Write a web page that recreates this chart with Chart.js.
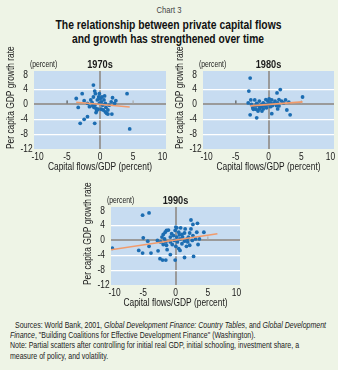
<!DOCTYPE html>
<html><head><meta charset="utf-8">
<script src="https://cdn.jsdelivr.net/npm/chart.js@4.4.1/dist/chart.umd.min.js"></script>
<style>
html,body{margin:0;padding:0;}
body{width:338px;height:370px;background:#eef4e6;position:relative;overflow:hidden;font-family:"Liberation Sans",Arial,sans-serif;color:#1a1a1a;}
.ln{position:absolute;white-space:nowrap;display:inline-block;line-height:1;}
.c{transform-origin:center center;}
.l{transform-origin:left center;}
#t0{font-size:8.5px;color:#444;}
.tt{font-size:12.5px;font-weight:bold;color:#111;}
.s{font-size:9.5px;color:#222;}
.s i{font-style:italic;}
canvas{position:absolute;}
</style></head><body>
<span id="t0" class="ln c">Chart 3</span>
<span id="t1" class="ln c tt">The relationship between private capital flows</span>
<span id="t2" class="ln c tt">and growth has strengthened over time</span>
<canvas id="c1"></canvas><canvas id="c2"></canvas><canvas id="c3"></canvas>
<span id="s1" class="ln l s">Sources: World Bank, 2001, <i>Global Development Finance: Country Tables</i>, and <i>Global Development</i></span>
<span id="s2" class="ln l s"><i>Finance</i>, "Building Coalitions for Effective Development Finance" (Washington).</span>
<span id="s3" class="ln l s">Note: Partial scatters after controlling for initial real GDP, initial schooling, investment share, a</span>
<span id="s4" class="ln l s">measure of policy, and volatility.</span>
<script>
const xTicks = [-10, -5, 0, 5, 10];
const yTicks = [-12, -8, -4, 0, 4, 8];
const panelTitles = ["1970s", "1980s", "1990s"];

const x70 = [-1.0,-0.8,-2.7,-3.6,-3.3,-2.4,-1.9,-1.4,-1.2,-1.0,-0.8,-0.6,-0.5,-0.6,-0.4,-0.2,-0.1,0.05,0.2,0.3,0.4,0.6,0.7,0.8,0.9,0.8,1.0,1.2,1.2,1.4,1.7,1.9,2.2,2.4,1.8,4.1,4.5,-3.0,-2.4,-1.9,-0.8,-0.9,-0.3,0.2,-1.6,-1.1,-0.1,0.5,-0.7];
const y70 = [5.2,3.6,2.9,1.6,-0.8,1.0,0.3,1.2,0.5,2.0,-0.2,-1.1,-1.7,-2.2,1.2,2.0,0.3,1.6,0.7,2.0,-0.2,1.2,2.3,0.3,-0.8,-2.0,-2.4,-1.5,-2.6,-0.2,0.7,1.8,0.3,1.0,-2.6,2.9,-6.6,-5.1,-4.0,-3.3,-5.1,-0.8,-1.3,-1.3,-0.6,-0.4,2.9,-1.5,2.9];
const fitX70 = [-3.6, 4.5];
const fitY70 = [0.6, -0.7];

const x80 = [-2.8,-3.0,1.8,1.3,5.2,-2.7,-2.1,-1.4,-2.6,-2.0,-2.3,-2.8,-1.6,-1.8,-1.3,-1.0,-0.8,-0.5,-0.4,-0.1,0.1,0.3,0.5,0.8,1.0,1.2,1.4,1.6,2.0,2.3,2.6,2.8,3.3,0.5,1.4,-1.0,-0.8,-0.3,0.3,-1.5,-1.8,-1.1,-0.6,0.0,0.6,-2.4,-1.9,-1.4,1.6,3.1,-3.1,-0.4];
const y80 = [7.1,3.6,4.0,3.1,2.0,1.2,1.2,0.9,0.0,-0.4,-1.3,-2.8,-1.8,-3.6,-0.9,0.0,0.4,-0.4,1.3,0.9,1.5,0.4,1.2,0.3,0.9,-0.3,0.4,1.3,0.9,0.4,1.2,-1.5,-2.8,-2.5,-1.2,-1.8,-1.2,-0.9,-0.6,-0.3,0.3,-0.6,-0.3,0.0,-0.3,-0.9,-1.3,-1.2,-0.4,0.6,0.4,0.0];
const fitX80 = [-2.8, 5.2];
const fitY80 = [-0.4, 0.7];

const x90 = [-5.1,-4.1,-9.8,-5.7,-5.1,-5.0,-4.3,-4.1,-3.8,-2.7,-2.8,-2.4,-2.0,-1.5,-0.8,-0.05,1.4,2.8,-2.1,-1.9,-1.6,-1.4,-1.1,-1.7,-1.5,-1.4,-1.3,-0.8,-0.6,-0.3,-0.2,-0.05,0.05,0.2,0.5,0.6,0.7,0.3,0.05,0.5,0.7,1.0,1.1,1.4,1.5,0.8,1.8,1.9,1.7,2.2,2.4,2.4,2.7,2.7,3.1,3.3,3.4,3.5,3.7,4.4,2.6,2.0,-2.3,-1.9,-0.8,-0.5,0.2,1.0,1.4,2.2];
const y90 = [6.8,7.4,-2.1,-2.7,-3.4,0.7,-0.2,-1.6,-3.4,-2.8,0.0,-4.9,-5.3,-5.3,-3.8,-5.3,-4.6,-4.3,0.9,1.6,2.2,2.7,2.8,0.4,-0.4,-1.3,-2.5,0.9,1.8,1.3,0.0,2.7,3.6,3.4,2.2,1.5,0.4,-0.4,-1.6,-2.2,-2.7,-0.9,0.9,2.0,3.1,3.4,0.4,-0.4,-1.6,2.0,3.1,5.5,4.3,1.3,0.4,2.2,4.6,-1.1,0.4,2.2,0.0,0.9,-0.4,-1.1,-0.4,-1.1,0.9,1.6,-0.2,-1.3];
const fitX90 = [-10, 6.5];
const fitY90 = [-2.5, 1.8];

// ---- HTML text placement (condensed look via horizontal scaling) ----
function place(id, cx, cy, target){
  const el = document.getElementById(id);
  const r = el.getBoundingClientRect();
  const k = target / r.width;
  el.style.left = (cx - r.width/2) + 'px';
  el.style.top = (cy - r.height/2) + 'px';
  el.style.transform = 'scaleX(' + k + ')';
}
place('t0', 169, 10, 25);
place('t1', 168, 25, 226);
place('t2', 168, 39.5, 192);
const sk = 311 / document.getElementById('s1').getBoundingClientRect().width;
[['s1',15,324.3],['s2',10,334.6],['s3',10,345],['s4',10,355.3]].forEach(([id,x,y])=>{
  const el = document.getElementById(id);
  const r = el.getBoundingClientRect();
  el.style.left = x + 'px';
  el.style.top = (y - r.height/2) + 'px';
  el.style.transform = 'scaleX(' + sk + ')';
});

// ---- Charts ----
const FONT = '"Liberation Sans",Arial,sans-serif';
const K = 0.8;
const PLOT_BG = '#c7dcf1';
const DOT = '#1c6db2';
const FIT = '#f19b6c';

function pts(xs, ys){ return xs.map((v,i)=>({x:v, y:ys[i]})); }

function txt(ctx, s, x, y, align){
  ctx.save();
  ctx.translate(x, y);
  ctx.scale(K, 1);
  ctx.textAlign = align;
  ctx.fillText(s, 0, 0);
  ctx.restore();
}

function makePanel(id, box, plot, xs, ys, fx, fy, title){
  const cv = document.getElementById(id);
  cv.style.left = box.left + 'px'; cv.style.top = box.top + 'px';
  cv.width = box.w; cv.height = box.h;
  cv.style.width = box.w + 'px'; cv.style.height = box.h + 'px';
  const padTop = plot.top - box.top;
  const padRight = box.left + box.w - plot.right;
  const yW = plot.left - box.left;
  const xH = box.top + box.h - plot.bottom;
  const deco = {
    id: 'deco'+id,
    beforeDraw(chart){
      const {ctx, chartArea:a} = chart;
      ctx.save();
      ctx.fillStyle = PLOT_BG;
      ctx.fillRect(a.left, a.top, a.right-a.left, a.bottom-a.top);
      ctx.restore();
    },
    beforeDatasetsDraw(chart){
      const {ctx, scales} = chart;
      const y0 = scales.y.getPixelForValue(0);
      ctx.save();
      [-5, 5].forEach((v,i)=>{
        const px = scales.x.getPixelForValue(v);
        ctx.fillStyle = i===0 ? '#555' : '#aaa';
        ctx.fillRect(px-0.5, y0-4, 1.2, 3);
      });
      ctx.restore();
    },
    afterDraw(chart){
      const {ctx, chartArea:a, scales} = chart;
      ctx.save();
      ctx.fillStyle = '#1a1a1a';
      ctx.textBaseline = 'middle';
      ctx.font = '10.5px ' + FONT;
      const minusW = ctx.measureText('-').width * K;
      yTicks.forEach(v=>{
        const py = scales.y.getPixelForValue(v);
        const x0 = a.left - 13.5 + (v < 0 ? 0 : minusW);
        txt(ctx, String(v), x0, py, 'left');
      });
      xTicks.forEach((v,i)=>{
        let px = scales.x.getPixelForValue(v);
        if (i === 0) px += 3.5;
        if (i === xTicks.length-1) px -= 3.5;
        txt(ctx, String(v), px, a.bottom + 8.5, 'center');
      });
      ctx.font = 'bold 11.5px ' + FONT;
      txt(ctx, title, (a.left+a.right)/2, a.top-6, 'center');
      ctx.font = '8.5px ' + FONT;
      txt(ctx, '(percent)', a.left-4, a.top-6.5, 'left');
      ctx.font = '10.5px ' + FONT;
      txt(ctx, 'Capital flows/GDP (percent)', (a.left+a.right)/2, a.bottom+18.5, 'center');
      ctx.translate(a.left-23, a.bottom);
      ctx.rotate(-Math.PI/2);
      txt(ctx, 'Per capita GDP growth rate', 0, 0, 'left');
      ctx.restore();
    }
  };
  return new Chart(cv, {
    type: 'scatter',
    data: { datasets: [
      { data: pts(fx, fy), showLine: true, borderColor: FIT, borderWidth: 1.6, pointRadius: 0, order: 0 },
      { data: pts(xs, ys), backgroundColor: DOT, borderWidth: 0, pointRadius: 1.9, order: 1 }
    ]},
    options: {
      responsive: false, animation: false, devicePixelRatio: 1,
      layout: { padding: { top: padTop, right: padRight, left: 0, bottom: 0 } },
      plugins: { legend: { display: false }, tooltip: { enabled: false } },
      scales: {
        x: {
          min: -10, max: 10,
          afterBuildTicks(s){ s.ticks = xTicks.map(v=>({value:v})); },
          afterFit(s){ s.height = xH; },
          ticks: { display: false },
          grid: { drawTicks: false, color: c => c.tick && c.tick.value === 0 ? '#9a9a9a' : 'rgba(0,0,0,0)', lineWidth: c => c.tick && c.tick.value === 0 ? 2 : 0 },
          border: { display: false }
        },
        y: {
          min: -12, max: 9,
          afterBuildTicks(s){ s.ticks = yTicks.map(v=>({value:v})); },
          afterFit(s){ s.width = yW; },
          ticks: { display: false },
          grid: { drawTicks: false,
            color: c => { const v = c.tick && c.tick.value; return v === 0 ? '#9a9a9a' : (v === 8 || v === -12 ? 'rgba(0,0,0,0)' : '#ffffff'); },
            lineWidth: c => c.tick && c.tick.value === 0 ? 2 : 1.2 },
          border: { display: false }
        }
      }
    },
    plugins: [deco]
  });
}

makePanel('c1', {left:0, top:44, w:170, h:132}, {left:34, top:71, right:166, bottom:149}, x70, y70, fitX70, fitY70, panelTitles[0]);
makePanel('c2', {left:168, top:44, w:170, h:132}, {left:203, top:71, right:335, bottom:149}, x80, y80, fitX80, fitY80, panelTitles[1]);
makePanel('c3', {left:76, top:180, w:170, h:132}, {left:111, top:207, right:240, bottom:285}, x90, y90, fitX90, fitY90, panelTitles[2]);
</script>
</body></html>
